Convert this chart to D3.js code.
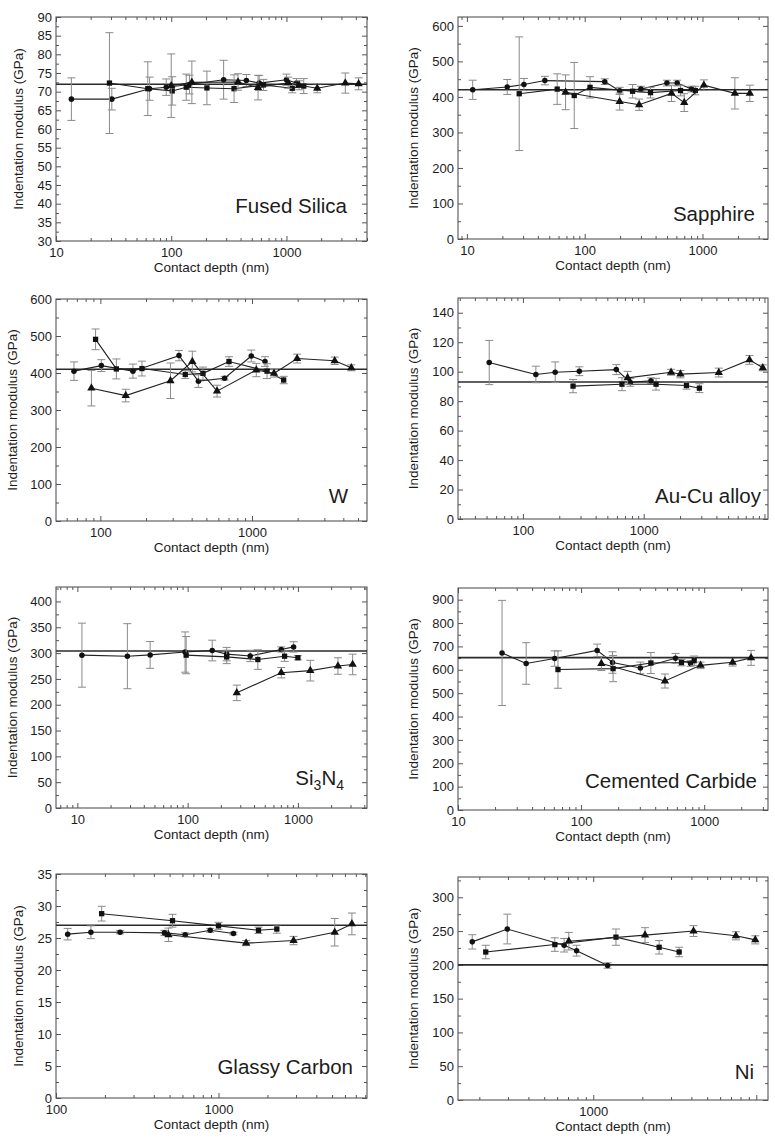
<!DOCTYPE html>
<html><head><meta charset="utf-8">
<script src="https://cdn.jsdelivr.net/npm/d3@7"></script>
<style>
body{margin:0;background:#fff}
svg{display:block}
text{font-family:Arial,"Liberation Sans",Helvetica,sans-serif;fill:#1c1c1c}
</style>
</head><body>
<svg id="chart" width="775" height="1142"></svg>
<script>
// ---- data: [contact depth (nm), indentation modulus (GPa), error (GPa)] ----
const fusedSilicaCircles = [[13.6,68.0,5.7],[30.5,68.0,2.9],[64.9,70.8,3.1],[90.5,71.2,2.2],[144,71.9,2.5],[285,73.2,5.2],[449,73.0,1.6],[580,72.3,2.0],[1000,73.2,1.5],[1222,72.3,1.2]];
const fusedSilicaSquares = [[29.1,72.3,13.5],[62.6,70.8,7.2],[102,70.2,3.8],[135,71.2,3.5],[204,71.0,4.5],[351,70.8,3.7],[631,71.8,1.5],[1122,70.9,1.2],[1413,71.5,2.0]];
const fusedSilicaTriangles = [[100,71.6,8.5],[151,72.5,5.7],[380,72.6,2.2],[567,71.1,3.3],[1035,72.4,1.5],[1288,71.7,1.2],[1849,70.9,1.2],[3240,72.3,2.7],[4230,72.1,1.6]];

const sapphireCircles = [[11.2,420,27],[22,428,21],[30.5,435,17],[45.9,446,12],[148,443,8],[198,417,10],[300,422,8],[499,439,8],[610,439,8],[807,422,8]];
const sapphireSquares = [[27.8,409,160],[58.4,422,43],[81.5,404,93],[111,427,30],[255,416,19],[362,412,15],[651,418,15],[870,418,12]];
const sapphireTriangles = [[68.8,413,49],[198,387,24],[290,378,16],[546,410,23],[700,384,25],[1028,433,15],[1884,410,44],[2524,410,23]];

const tungstenCircles = [[67,405,25],[101.5,420,16],[164,405,19],[330,447,14],[443,378,17],[660,386,5],[989,446,16],[1218,431,13]];
const tungstenSquares = [[93,491,28],[127.5,411,27],[188,412,20],[363,396,11],[475,399,17],[705,431,13],[1256,405,20],[1617,381,10]];
const tungstenTriangles = [[87.3,359,48],[147,339,17],[290,379,48],[404,431,28],[588,351,16],[1067,408,18],[1397,399,10],[1983,439,12],[3508,433,10],[4518,414,8]];

const auCuCircles = [[52.6,106.2,15],[128,98.1,5.6],[185,99.6,7],[293,100.3,3],[593,101.4,3.4],[775,92.7,2.6],[1150,93.8,2]];
const auCuSquares = [[260,90.2,4.5],[661,91.5,4.4],[1266,91.5,4],[2260,90.6,2.5],[2893,88.8,3]];
const auCuTriangles = [[736,95.8,4.4],[1686,99.6,2],[2015,98.3,2.5],[4186,99.4,3],[7516,108,3],[9690,102.6,2]];

const si3n4Circles = [[11,296,62],[28.4,294,63],[45.7,296.5,26],[94.8,302,39],[167,305,20],[226,298,13],[369,294.5,11],[706,307,5],[914,312,10]];
const si3n4Squares = [[96.9,296,36],[226,292.6,13],[433,287.5,19],[757,294,10],[1000,291,4]];
const si3n4Triangles = [[279,223,15],[706,262,10],[1295,266,20],[2307,275,16],[3134,278,20]];

const carbideCircles = [[22.8,672,225],[35.8,627,89],[61,648,33],[135,683,27],[180,631,46],[303,608,25],[585,649,21],[775,627,12]];
const carbideSquares = [[64.9,601,80],[182,605,56],[369,629,45],[654,631,14],[830,639,20]];
const carbideTriangles = [[146,627,30],[480,552,30],[935,619,14],[1703,632,16],[2404,651,32]];

const glassyCircles = [[118,25.6,0.9],[164,25.9,1.0],[248,25.9,0.25],[465,25.8,0.4],[624,25.5,0.3],[889,26.2,0.3],[1236,25.7,0.2]];
const glassySquares = [[191,28.8,1.15],[521,27.7,1.0],[1000,26.9,0.55],[1762,26.2,0.5],[2285,26.4,0.65]];
const glassyTriangles = [[492,25.5,1.05],[1479,24.2,0.4],[2897,24.6,0.65],[5190,25.9,2.15],[6620,27.2,1.7]];

const nickelCircles = [[181,234,10.6],[297,253,22],[663,229,10],[790,221,8],[1225,199,4]];
const nickelSquares = [[219,219,10],[581,230,10],[1378,241,12],[2535,226,10],[3364,219,7]];
const nickelTriangles = [[708,235,13],[2078,244,11],[4121,250,8],[7500,243,6],[9860,237,6]];

const materials = ["Fused Silica","Sapphire","W","Au-Cu alloy","Si3N4","Cemented Carbide","Glassy Carbon","Ni"];
const referenceModulus = [72, 420, 410, 93, 304, 652, 27, 200];
const xDomains = [[10,5000],[8.4,3600],[51,5730],[29,10700],[6.4,4230],[10,3300],[100,8200],[148,11800]];
const yDomains = [[30,90],[0,625],[0,600],[0,150],[0,428],[0,950],[0,35],[0,330]];
const yMajorStep = [5,100,100,20,50,100,5,50];
const yMaxLabel = [90,600,600,140,400,900,35,300];
const xTitle = "Contact depth (nm)";
const yTitle = "Indentation modulus (GPa)";

const seriesSets = [
  [fusedSilicaCircles,fusedSilicaSquares,fusedSilicaTriangles],
  [sapphireCircles,sapphireSquares,sapphireTriangles],
  [tungstenCircles,tungstenSquares,tungstenTriangles],
  [auCuCircles,auCuSquares,auCuTriangles],
  [si3n4Circles,si3n4Squares,si3n4Triangles],
  [carbideCircles,carbideSquares,carbideTriangles],
  [glassyCircles,glassySquares,glassyTriangles],
  [nickelCircles,nickelSquares,nickelTriangles]
];

// ---- layout (pixel boxes: left, top, right, bottom) ----
const boxes = [[56,17,367,241],[458,17,768,239],[56,299,367,521],[458,298,768,519],
               [56,587,367,808],[458,588,768,810],[56,874,367,1098],[458,877,768,1100]];
const yTitleOffset = [33,40,39,40,39,40,33,40];
const nameAnchor = [[347,206],[755,214],[348,496],[761,496],[344,778],[757,781],[353,1067],[754,1072]];

const svg = d3.select("#chart");
const shapes = [d3.symbolCircle, d3.symbolSquare, d3.symbolTriangle];
const shapeSize = [24, 28, 30];

boxes.forEach((b, i) => {
  const [L,T,R,B] = b;
  const g = svg.append("g");
  const x = d3.scaleLog().domain(xDomains[i]).range([L,R]);
  const y = d3.scaleLinear().domain(yDomains[i]).range([B,T]);

  // ticks
  const allX = x.ticks();
  const decades = allX.filter(v => Math.abs(Math.log10(v) - Math.round(Math.log10(v))) < 1e-9);
  const labelled = decades.filter(v => x(v) + String(v).length * 3.6 <= 774);
  const minorX = allX.filter(v => !decades.includes(v));
  const step = yMajorStep[i];
  const majorY = d3.range(yDomains[i][0], yMaxLabel[i] + step/2, step);
  const minorY = d3.range(yDomains[i][0] + step/2, yDomains[i][1], step).filter(v => v < yDomains[i][1] - 1e-9);

  const tickStyle = sel => {
    sel.select(".domain").remove();
    sel.selectAll("line").attr("stroke","#555").attr("stroke-width",1);
    sel.selectAll("text").attr("font-size",13).attr("fill","#1c1c1c").attr("font-family","Arial, 'Liberation Sans', sans-serif");
  };
  g.append("g").attr("transform",`translate(0,${B})`)
    .call(d3.axisBottom(x).tickValues(labelled).tickSize(-5).tickPadding(7).tickFormat(d3.format("d"))).call(tickStyle);
  g.append("g").attr("transform",`translate(0,${B})`)
    .call(d3.axisBottom(x).tickValues(decades.filter(v => !labelled.includes(v))).tickSize(-5).tickFormat("")).call(tickStyle);
  g.append("g").attr("transform",`translate(0,${B})`)
    .call(d3.axisBottom(x).tickValues(minorX).tickSize(-3).tickFormat("")).call(tickStyle);
  g.append("g").attr("transform",`translate(0,${T})`)
    .call(d3.axisTop(x).tickValues(decades).tickSize(-5).tickFormat("")).call(tickStyle);
  g.append("g").attr("transform",`translate(0,${T})`)
    .call(d3.axisTop(x).tickValues(minorX).tickSize(-3).tickFormat("")).call(tickStyle);
  g.append("g").attr("transform",`translate(${L},0)`)
    .call(d3.axisLeft(y).tickValues(majorY).tickSize(-5).tickPadding(4).tickFormat(d3.format("d"))).call(tickStyle);
  g.append("g").attr("transform",`translate(${L},0)`)
    .call(d3.axisLeft(y).tickValues(minorY).tickSize(-3).tickFormat("")).call(tickStyle);
  g.append("g").attr("transform",`translate(${R},0)`)
    .call(d3.axisRight(y).tickValues(majorY).tickSize(-5).tickFormat("")).call(tickStyle);
  g.append("g").attr("transform",`translate(${R},0)`)
    .call(d3.axisRight(y).tickValues(minorY).tickSize(-3).tickFormat("")).call(tickStyle);

  // frame
  g.append("rect").attr("x",L).attr("y",T).attr("width",R-L).attr("height",B-T)
    .attr("fill","none").attr("stroke","#555").attr("stroke-width",1.1);

  // reference line
  g.append("line").attr("x1",L).attr("x2",R).attr("y1",y(referenceModulus[i])).attr("y2",y(referenceModulus[i]))
    .attr("stroke","#2a2a2a").attr("stroke-width",1.6);

  // series
  seriesSets[i].forEach((data, s) => {
    const sorted = data.slice().sort((a,b)=>a[0]-b[0]);
    const eb = g.append("g").attr("stroke","#8a8a8a").attr("stroke-width",1);
    sorted.forEach(d => {
      const cx = x(d[0]), y1 = y(d[1]-d[2]), y2 = y(d[1]+d[2]);
      eb.append("line").attr("x1",cx).attr("x2",cx).attr("y1",y1).attr("y2",y2);
      eb.append("line").attr("x1",cx-4).attr("x2",cx+4).attr("y1",y1).attr("y2",y1);
      eb.append("line").attr("x1",cx-4).attr("x2",cx+4).attr("y1",y2).attr("y2",y2);
    });
    g.append("path").datum(sorted)
      .attr("d", d3.line().x(d=>x(d[0])).y(d=>y(d[1])))
      .attr("fill","none").attr("stroke","#222").attr("stroke-width",1.1);
    g.selectAll(null).data(sorted).enter().append("path")
      .attr("transform", d=>`translate(${x(d[0])},${y(d[1])})`)
      .attr("d", d3.symbol().type(shapes[s]).size(shapeSize[s]))
      .attr("fill","#111");
  });

  // axis titles
  g.append("text").attr("x",(L+R)/2).attr("y",B+31).attr("text-anchor","middle")
    .attr("font-size",13.5).text(xTitle);
  g.append("text").attr("transform",`translate(${L-yTitleOffset[i]},${(T+B)/2}) rotate(-90)`)
    .attr("text-anchor","middle").attr("font-size",13.5).text(yTitle);

  // material label
  const [nx, ny] = nameAnchor[i];
  const t = g.append("text").attr("x",nx).attr("y",ny+7).attr("text-anchor","end").attr("font-size",20.5);
  const m = materials[i].match(/^Si(\d)N(\d)$/);
  if (m) {
    t.append("tspan").text("Si");
    t.append("tspan").attr("dy",5).attr("font-size",14).text(m[1]);
    t.append("tspan").attr("dy",-5).text("N");
    t.append("tspan").attr("dy",5).attr("font-size",14).text(m[2]);
  } else {
    t.text(materials[i]);
  }
});
</script>
</body></html>
